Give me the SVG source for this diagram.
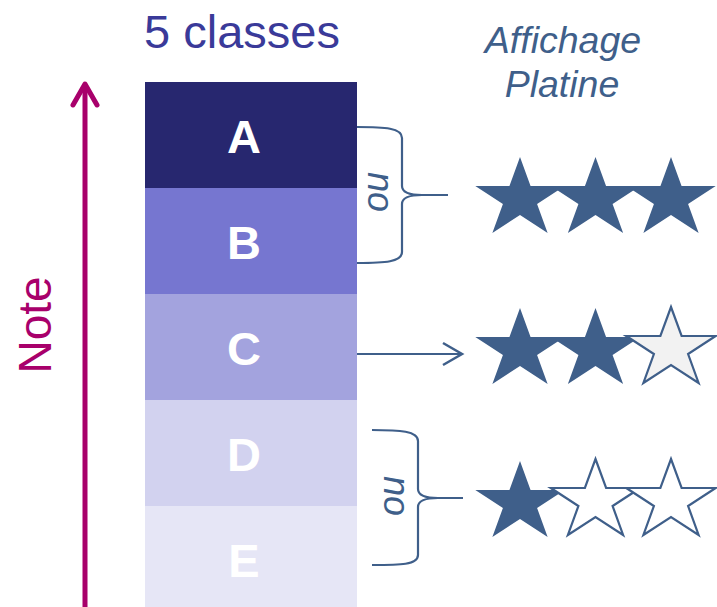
<svg xmlns="http://www.w3.org/2000/svg" width="717" height="607" viewBox="0 0 717 607">
  <style>
    .cls { font-family: "Liberation Sans", Arial, sans-serif; font-weight: bold; font-size: 47px; fill: #ffffff; text-anchor: middle; }
    .title { font-family: "Liberation Sans", Arial, sans-serif; font-size: 47px; fill: #3a3a99; }
    .disp { font-family: "Liberation Sans", Arial, sans-serif; font-style: italic; font-size: 37.5px; fill: #3f5f8a; text-anchor: middle; }
    .ou { font-family: "Liberation Sans", Arial, sans-serif; font-style: italic; font-size: 36px; fill: #3f5f8a; text-anchor: middle; }
    .note { font-family: "Liberation Sans", Arial, sans-serif; font-size: 46px; fill: #a8006b; text-anchor: middle; }
    .brace { fill: none; stroke: #3f5f8a; stroke-width: 2.2; }
    .full { fill: #3f5f8a; }
    .grey { fill: #f2f2f2; stroke: #3f5f8a; stroke-width: 2.2; stroke-linejoin: miter; }
    .empty { fill: #ffffff; stroke: #3f5f8a; stroke-width: 2.2; stroke-linejoin: miter; }
  </style>
  <defs>
    <!-- unit five-point star, stretched horizontally when used -->
    <path id="star" d="M0,-1 L0.2245,-0.309 L0.951,-0.309 L0.3633,0.118 L0.588,0.809 L0,0.382 L-0.588,0.809 L-0.3633,0.118 L-0.951,-0.309 L-0.2245,-0.309 Z"/>
    <path id="star-outline" d="M0,-42 L10.6,-13 L44.7,-13 L17.1,5 L27.6,34 L0,16 L-27.6,34 L-17.1,5 L-44.7,-13 L-10.6,-13 Z"/>
  </defs>
  <rect width="717" height="607" fill="#ffffff"/>

  <text class="title" x="144" y="48">5 classes</text>
  <text class="disp" x="563" y="53">Affichage</text>
  <text class="disp" x="562" y="97">Platine</text>

  <!-- rating axis -->
  <g id="note-axis">
    <line x1="85" y1="607" x2="85" y2="86" stroke="#a8006b" stroke-width="5"/>
    <polyline points="73,105 85,84 97,105" fill="none" stroke="#a8006b" stroke-width="5" stroke-linecap="round" stroke-linejoin="round"/>
    <text class="note" transform="translate(51,325) rotate(-90)">Note</text>
  </g>

  <!-- class scale -->
  <g id="class-a"><rect x="145" y="82" width="212" height="106" fill="#27276f"/><text class="cls" x="244" y="153">A</text></g>
  <g id="class-b"><rect x="145" y="188" width="212" height="106" fill="#7676d0"/><text class="cls" x="244" y="259">B</text></g>
  <g id="class-c"><rect x="145" y="294" width="212" height="106" fill="#a3a3de"/><text class="cls" x="244" y="365">C</text></g>
  <g id="class-d"><rect x="145" y="400" width="212" height="106" fill="#d2d2ef"/><text class="cls" x="244" y="471">D</text></g>
  <g id="class-e"><rect x="145" y="506" width="212" height="101" fill="#e6e6f6"/><text class="cls" x="244" y="577">E</text></g>

  <!-- connectors -->
  <g id="connectors">
    <path class="brace" d="M357,127 C385,127 402,128 402,138 L402,186 C402,192 410,195 422,195 L448,195 M422,195 C410,195 402,198 402,204 L402,252 C402,262 385,263 357,263"/>
    <text class="ou" transform="translate(388,192) rotate(-90)">ou</text>
    <line x1="357" y1="354" x2="461" y2="354" stroke="#3f5f8a" stroke-width="2.2"/>
    <polyline points="443,343 462,354 443,365" fill="none" stroke="#3f5f8a" stroke-width="2.5"/>
    <path class="brace" d="M372,430 C400,430 418,431 418,441 L418,489 C418,495 426,498 438,498 L463,498 M438,498 C426,498 418,501 418,507 L418,555 C418,565 400,565 372,565"/>
    <text class="ou" transform="translate(404,496) rotate(-90)">ou</text>
  </g>

  <!-- three stars -->
  <g id="stars-3">
    <use href="#star" class="full" transform="translate(520,199) scale(47,42)"/>
    <use href="#star" class="full" transform="translate(595.5,199) scale(47,42)"/>
    <use href="#star" class="full" transform="translate(671,199) scale(47,42)"/>
  </g>
  <!-- two stars -->
  <g id="stars-2">
    <use href="#star" class="full" transform="translate(520,350) scale(47,42)"/>
    <use href="#star" class="full" transform="translate(595.5,350) scale(47,42)"/>
    <use href="#star-outline" class="grey" transform="translate(671,349)"/>
  </g>
  <!-- one star -->
  <g id="stars-1">
    <use href="#star" class="full" transform="translate(520,503) scale(47,42)"/>
    <use href="#star-outline" class="empty" transform="translate(595.5,501)"/>
    <use href="#star-outline" class="empty" transform="translate(671,501)"/>
  </g>
</svg>
